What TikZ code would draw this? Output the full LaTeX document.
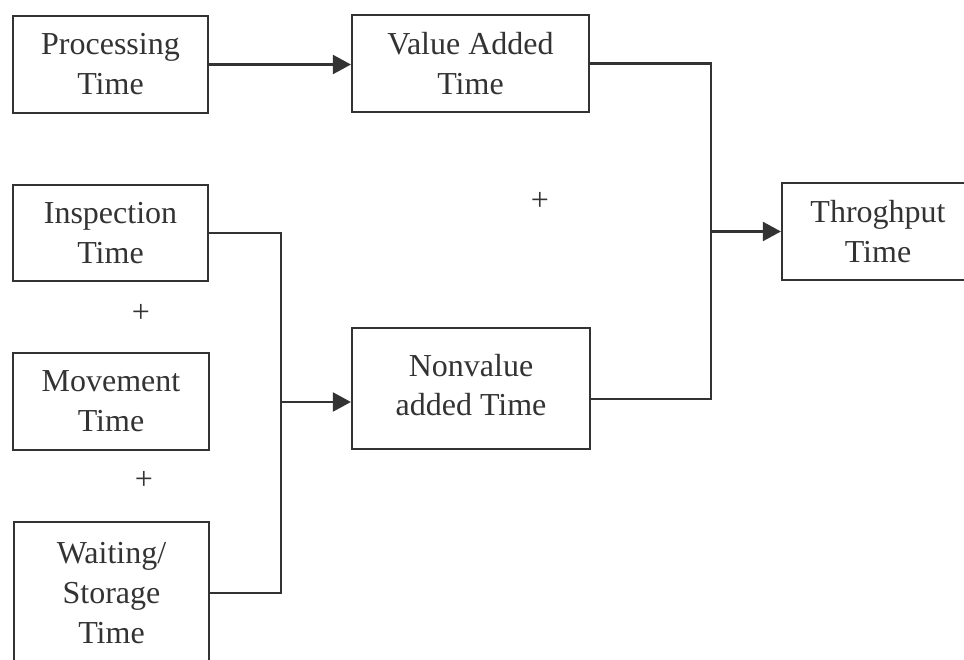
\documentclass[tikz,border=0pt]{standalone}
\usepackage{fontspec}
\setmainfont{Liberation Serif}
\usetikzlibrary{arrows.meta,calc}
\definecolor{ink}{HTML}{333333}
\begin{document}
\begin{tikzpicture}[x=1pt,y=-1pt,
  box/.style={draw=ink, line width=2.2pt, text=ink, align=center,
    font=\fontsize{32}{40}\selectfont, inner sep=0pt},
  conn/.style={draw=ink, line width=2.2pt},
  arr/.style={conn, -{Triangle[length=18pt,width=19pt]}},
  plus/.style={text=ink, font=\fontsize{32}{34}\selectfont, inner sep=0pt}]
\useasboundingbox (0,0) rectangle (964,660);
\clip (0,0) rectangle (964,660);
\node[box, minimum width=195pt, minimum height=97pt] (proc) at (110.5,64.5) {Processing\\Time};
\node[box, minimum width=237pt, minimum height=97pt] (va) at (470.5,63.5) {Value Added\\Time};
\node[box, minimum width=195pt, minimum height=96pt] (insp) at (110.5,233) {Inspection\\Time};
\node[box, minimum width=196pt, minimum height=97pt] (mov) at (111,401.5) {Movement\\Time};
\node[box, minimum width=195pt, minimum height=142pt] (wait) at (111.5,593) {Waiting/\\Storage\\Time};
\node[box, minimum width=238pt, minimum height=121pt] (nv) at (471,388.5) {\raisebox{11pt}{\begin{tabular}{@{}c@{}}Nonvalue\\[-1pt]added Time\end{tabular}}};
\node[box, minimum width=192pt, minimum height=97pt] (thr) at (878,231.5) {Throghput\\Time};
\node[plus] (p1) at (540,201) {+};
\node[plus] (p2) at (141,313) {+};
\node[plus] (p3) at (144,480) {+};
\coordinate (lt) at (281,233);
\coordinate (lm) at (281,402);
\coordinate (lb) at (281,593);
\coordinate (rt) at (711,63.5);
\coordinate (rm) at (711,231.5);
\coordinate (rb) at (711,399);
\draw[arr] (proc.east) -- (proc.east -| va.west);
\draw[conn] (insp.east) -- (lt) -- (lb) -- (wait.east |- lb);
\draw[arr] (lm) -- (nv.west |- lm);
\draw[conn] (va.east) -- (rt) -- (rb) -- (nv.east |- rb);
\draw[arr] (rm) -- (thr.west);
\end{tikzpicture}
\end{document}
